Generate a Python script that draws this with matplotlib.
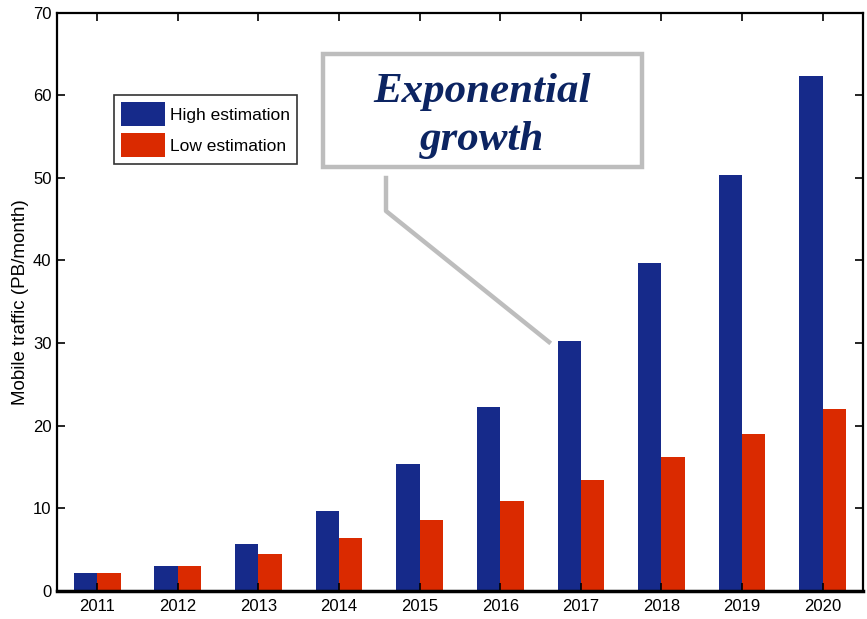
import numpy as np
import matplotlib
matplotlib.use("Agg")
import matplotlib.pyplot as plt
from matplotlib.patches import Rectangle
from matplotlib.lines import Line2D

# data
years = ["2011", "2012", "2013", "2014", "2015", "2016", "2017", "2018", "2019", "2020"]
high_est = [2.1, 3.0, 5.6, 9.7, 15.3, 22.2, 30.2, 39.7, 50.3, 62.3]
low_est = [2.1, 3.0, 4.5, 6.4, 8.6, 10.9, 13.4, 16.2, 19.0, 22.0]

narrow = ["Liberation Sans Narrow", "Liberation Sans", "DejaVu Sans"]

fig = plt.figure(figsize=(8.67, 6.19), dpi=100)
ax = fig.add_axes([0.0657, 0.0457, 0.9297, 0.934])

x = np.arange(1, len(years) + 1)
w = 0.29
ax.bar(x - w / 2, high_est, w, color="#162a8a", label="High estimation")
ax.bar(x + w / 2, low_est, w, color="#da2a00", label="Low estimation")

ax.set_xlim(0.5, 10.5)
ax.set_ylim(0, 70)
ax.set_xticks(x)
ax.set_xticklabels(years, family=narrow, fontsize=12)
ax.set_yticks(range(0, 71, 10))
ax.set_yticklabels([str(v) for v in range(0, 71, 10)], family=narrow, fontsize=12)
ax.tick_params(direction="in", top=True, right=True, length=6, width=1.2, pad=6)
ax.tick_params(axis="y", pad=4)
for s in ax.spines.values():
    s.set_linewidth(1.6)
ax.spines["bottom"].set_linewidth(2.5)
ax.set_ylabel("Mobile traffic (PB/month)", family="Liberation Sans", fontsize=13.5)
ax.yaxis.set_label_coords(-0.035, 0.5)

leg = ax.legend(loc="upper left", bbox_to_anchor=(0.0707, 0.858), frameon=True, fancybox=False,
                prop={"family": narrow, "size": 12.5}, handlelength=2.5, handleheight=1.75,
                handletextpad=0.3, borderpad=0.42, labelspacing=0.4, borderaxespad=0)
leg.get_frame().set_edgecolor("black")
leg.get_frame().set_linewidth(1.2)

# callout box with leader line (figure pixels -> fractions)
W, H = 867, 619
gray = "#bdbdbd"
fig.add_artist(Rectangle((323 / W, 1 - 167 / H), 319 / W, 113 / H, transform=fig.transFigure,
                         facecolor="white", edgecolor=gray, linewidth=3.2, zorder=5))
fig.add_artist(Line2D([386 / W, 386 / W, 549 / W], [1 - 178 / H, 1 - 211 / H, 1 - 342 / H],
                      transform=fig.transFigure, color=gray, linewidth=3.2, zorder=5))
fig.text(482 / W, 1 - 116 / H, "Exponential\ngrowth", ha="center", va="center",
         family="Liberation Serif", fontstyle="italic", fontweight="bold",
         fontsize=31, color="#0c2462", linespacing=1.32, zorder=6)

fig.savefig("out.png", dpi=100)
